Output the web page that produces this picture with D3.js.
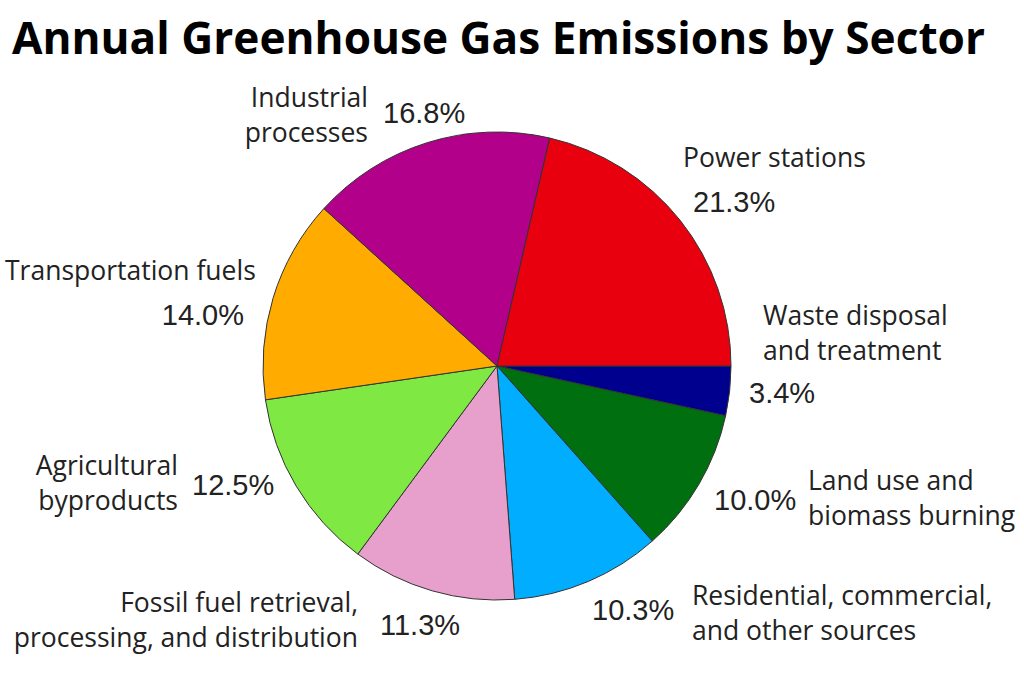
<!DOCTYPE html>
<html>
<head>
<meta charset="utf-8">
<script src="https://cdn.jsdelivr.net/npm/d3@7"></script>
<style>
  body { margin: 0; background: #fff; }
  text { font-family: "Open Sans", "Noto Sans", sans-serif; fill: #222; }
  .pct { font-family: "Liberation Sans", Arial, sans-serif; }
</style>
</head>
<body>
<div id="chart"></div>
<script>
// sectors, clockwise starting from 3 o'clock
var sectors = ["Waste disposal and treatment", "Land use and biomass burning",
    "Residential, commercial, and other sources", "Fossil fuel retrieval, processing, and distribution",
    "Agricultural byproducts", "Transportation fuels", "Industrial processes", "Power stations"];
var shares = [3.4, 10.0, 10.3, 11.3, 12.5, 14.0, 16.8, 21.3];
var sliceColors = ["#00008f", "#006f0f", "#00adff", "#e6a0cb", "#80e842", "#ffab00", "#b3008b", "#e8000e"];
var labelLines = [
    ["Waste disposal", "and treatment"],
    ["Land use and", "biomass burning"],
    ["Residential, commercial,", "and other sources"],
    ["Fossil fuel retrieval,", "processing, and distribution"],
    ["Agricultural", "byproducts"],
    ["Transportation fuels"],
    ["Industrial", "processes"],
    ["Power stations"]
];

// label placement (name block anchor, percent anchor)
var labelLayout = [
    { nx: 763, ny: 325, na: "start", px: 749, py: 403, pa: "start" },
    { nx: 808, ny: 490, na: "start", px: 714, py: 510, pa: "start" },
    { nx: 692, ny: 605, na: "start", px: 592, py: 620, pa: "start" },
    { nx: 358, ny: 612, na: "end",   px: 380, py: 635, pa: "start" },
    { nx: 178, ny: 475, na: "end",   px: 192, py: 495, pa: "start" },
    { nx: 5,   ny: 280, na: "start", px: 244, py: 325, pa: "end" },
    { nx: 368, ny: 107, na: "end",   px: 383, py: 123, pa: "start" },
    { nx: 683, ny: 167, na: "start", px: 693, py: 212, pa: "start" }
];

var width = 1024, height = 678;
var cx = 497, cy = 366, radius = 234;

var svg = d3.select("#chart")
    .append("svg")
    .attr("width", width)
    .attr("height", height);

// title
svg.append("text")
    .attr("x", 12)
    .attr("y", 54)
    .attr("textLength", 973)
    .attr("lengthAdjust", "spacingAndGlyphs")
    .style("font-size", "44px")
    .style("font-weight", "bold")
    .style("fill", "#000")
    .text("Annual Greenhouse Gas Emissions by Sector");

var data = sectors.map(function (s, i) {
    return { name: s, value: shares[i], color: sliceColors[i], lines: labelLines[i], layout: labelLayout[i] };
});

var pie = d3.pie()
    .sort(null)
    .value(function (d) { return d.value; })
    .startAngle(Math.PI / 2)
    .endAngle(Math.PI / 2 + 2 * Math.PI);

var arc = d3.arc()
    .innerRadius(0)
    .outerRadius(radius);

var g = svg.append("g")
    .attr("transform", "translate(" + cx + "," + cy + ")");

g.selectAll("path")
    .data(pie(data))
    .enter()
    .append("path")
    .attr("d", arc)
    .style("fill", function (d) { return d.data.color; })
    .attr("stroke", "#333")
    .attr("stroke-width", 1);

// labels
var labels = svg.append("g");
data.forEach(function (d) {
    var L = d.layout;
    var t = labels.append("text")
        .attr("text-anchor", L.na)
        .style("font-size", "26.5px");
    d.lines.forEach(function (line, j) {
        t.append("tspan")
            .attr("x", L.nx)
            .attr("y", L.ny + j * 35)
            .text(line);
    });
    labels.append("text")
        .attr("class", "pct")
        .attr("x", L.px)
        .attr("y", L.py)
        .attr("text-anchor", L.pa)
        .style("font-size", "29px")
        .text(d.value.toFixed(1) + "%");
});
</script>
</body>
</html>
